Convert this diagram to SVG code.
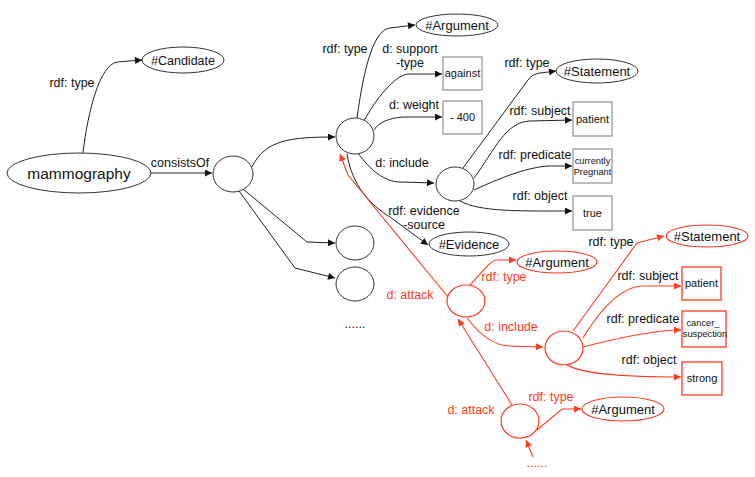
<svg xmlns="http://www.w3.org/2000/svg" width="755" height="477" viewBox="0 0 755 477">
<defs>
<marker id="ab" viewBox="0 0 10 10" refX="10" refY="5" markerWidth="9" markerHeight="7" orient="auto" markerUnits="userSpaceOnUse"><path d="M0,0 L10,5 L0,10 z" fill="#111"/></marker>
<marker id="ar" viewBox="0 0 10 10" refX="10" refY="5" markerWidth="9" markerHeight="7" orient="auto" markerUnits="userSpaceOnUse"><path d="M0,0 L10,5 L0,10 z" fill="#FF3B20"/></marker>
</defs>
<style>
text{font-family:"Liberation Sans",Arial,sans-serif;fill:#111;text-anchor:middle}
.lbl{font-size:12.5px}
.red{fill:#FF3B20}
.nt{font-size:13px}
.bt{font-size:11px}
.st{font-size:9.3px}
.en{fill:#fff;stroke:#333;stroke-width:1}
.er{fill:#fff;stroke:#FF3B20;stroke-width:1.2}
.bx{fill:#fff;stroke:#999;stroke-width:1.3}
.bxr{fill:#fff;stroke:#FF3B20;stroke-width:1.3}
.cb{fill:none;stroke:#222;stroke-width:1;marker-end:url(#ab)}
.cr{fill:none;stroke:#FF3B20;stroke-width:1.1;marker-end:url(#ar)}
</style>
<rect width="755" height="477" fill="#fff"/>
<g id="connectors">
<path class="cb" d="M83,153 C88,110 100,65 117,62 L142,60"/>
<path class="cb" d="M151,173 L212,173"/>
<path class="cb" d="M252,167 C265,140 290,137 335,137"/>
<path class="cb" d="M243,189 L307,242 L335,243"/>
<path class="cb" d="M239,191 L295,268 L335,278"/>
<path class="cb" d="M357,118 C365,60 375,30 390,28 L415,25"/>
<path class="cb" d="M364,121 C375,100 395,75 408,74 L442,74"/>
<path class="cb" d="M374,130 C380,120 395,117 407,117 L442,117"/>
<path class="cb" d="M358,153 C370,170 385,182 400,182 L434,183"/>
<path class="cb" d="M347,154 C352,185 370,205 390,217 L428,245"/>
<path class="cb" d="M463,168 L528,80 Q532,74 540,73 L556,71"/>
<path class="cb" d="M474,178 C495,150 505,122 530,121 L572,120"/>
<path class="cb" d="M474,190 C500,178 525,168 547,166 L572,166"/>
<path class="cb" d="M460,201 C480,212 520,211 572,211"/>
<path class="cr" d="M448,297 L348,175 L340,154"/>
<path class="cr" d="M512,405 L458,319"/>
<path class="cr" d="M470,285 C480,275 490,260 497,260 L516,260"/>
<path class="cr" d="M467,318 C480,335 495,346 510,346 L543,347"/>
<path class="cr" d="M573,331 L637,243 L664,236"/>
<path class="cr" d="M583,338 C600,310 620,287 642,286 L681,286"/>
<path class="cr" d="M583,347 C610,340 650,330 681,330"/>
<path class="cr" d="M567,365 C585,375 630,377 681,377"/>
<path class="cr" d="M537,430 L562,409 L581,409"/>
<path class="cr" d="M533,457 L526,440"/>
</g>
<g id="edge-labels">
<text class="lbl" x="72" y="87">rdf: type</text>
<text class="lbl" x="180" y="167">consistsOf</text>
<text class="lbl" x="345" y="53">rdf: type</text>
<text class="lbl" x="410" y="53">d: support</text>
<text class="lbl" x="410" y="67">-type</text>
<text class="lbl" x="414" y="109">d: weight</text>
<text class="lbl" x="402" y="167">d: include</text>
<text class="lbl" x="424" y="215">rdf: evidence</text>
<text class="lbl" x="424" y="229">-source</text>
<text class="lbl" x="527" y="67">rdf: type</text>
<text class="lbl" x="540" y="115">rdf: subject</text>
<text class="lbl" x="535" y="159">rdf: predicate</text>
<text class="lbl" x="540" y="200">rdf: object</text>
<text class="lbl red" x="410" y="299">d: attack</text>
<text class="lbl red" x="504" y="281">rdf: type</text>
<text class="lbl red" x="511" y="331">d: include</text>
<text class="lbl" x="611" y="246">rdf: type</text>
<text class="lbl" x="648" y="280">rdf: subject</text>
<text class="lbl" x="643" y="323">rdf: predicate</text>
<text class="lbl" x="649" y="364">rdf: object</text>
<text class="lbl red" x="551" y="401">rdf: type</text>
<text class="lbl red" x="471" y="414">d: attack</text>
<text class="lbl" x="355" y="328">......</text>
<text class="lbl red" x="537" y="467">......</text>
</g>
<g id="mammography"><ellipse class="en" cx="79" cy="173" rx="72" ry="20"/><text x="79" y="179" style="font-size:15.5px">mammography</text></g>
<g id="candidate"><ellipse class="en" cx="183" cy="60" rx="41" ry="13"/><text class="nt" x="183" y="65" style="font-size:12.5px">#Candidate</text></g>
<g id="c1"><ellipse class="en" cx="233" cy="174" rx="20" ry="18"/></g>
<g id="c2"><ellipse class="en" cx="355" cy="136" rx="19" ry="18"/></g>
<g id="c4"><ellipse class="en" cx="355" cy="243" rx="19" ry="17"/></g>
<g id="c5"><ellipse class="en" cx="355" cy="284" rx="19" ry="17"/></g>
<g id="argument"><ellipse class="en" cx="457" cy="25" rx="41" ry="11"/><text class="nt" x="457" y="30">#Argument</text></g>
<g id="against"><rect class="bx" x="443" y="57" width="39" height="33"/><text class="bt" x="462.5" y="77">against</text></g>
<g id="weight"><rect class="bx" x="443" y="101" width="39" height="33"/><text class="bt" x="462.5" y="121">- 400</text></g>
<g id="c3"><ellipse class="en" cx="455" cy="184" rx="19" ry="17"/></g>
<g id="evidence"><ellipse class="en" cx="469" cy="244" rx="40" ry="12"/><text class="nt" x="469" y="249">#Evidence</text></g>
<g id="statement"><ellipse class="en" cx="597" cy="71" rx="41" ry="12"/><text class="nt" x="597" y="76">#Statement</text></g>
<g id="patient"><rect class="bx" x="573" y="102" width="39" height="34"/><text class="bt" x="592.5" y="123">patient</text></g>
<g id="pregnant"><rect class="bx" x="573" y="149" width="39" height="34"/><text class="st" x="592.5" y="164">currently</text><text class="st" x="592.5" y="175">Pregnant</text></g>
<g id="true"><rect class="bx" x="573" y="196" width="39" height="34"/><text class="bt" x="592.5" y="217">true</text></g>
<g id="a1"><ellipse class="er" cx="466" cy="301" rx="19" ry="16"/></g>
<g id="argument-red"><ellipse class="er" cx="557" cy="262" rx="40" ry="11"/><text class="nt" x="557" y="267">#Argument</text></g>
<g id="a2"><ellipse class="er" cx="564" cy="348" rx="19" ry="17"/></g>
<g id="statement-red"><ellipse class="er" cx="707" cy="236" rx="41" ry="11"/><text class="nt" x="707" y="241">#Statement</text></g>
<g id="patient-red"><rect class="bxr" x="682" y="267" width="39" height="33"/><text class="bt" x="701.5" y="287">patient</text></g>
<g id="cancer-red"><rect class="bxr" x="682" y="311" width="44" height="36"/><text class="st" x="703" y="326">cancer_</text><text class="st" x="705" y="337">suspection</text></g>
<g id="strong-red"><rect class="bxr" x="682" y="362" width="40" height="33"/><text class="bt" x="702" y="382">strong</text></g>
<g id="a3"><ellipse class="er" cx="520" cy="421" rx="19" ry="17"/></g>
<g id="argument-red2"><ellipse class="er" cx="623" cy="409" rx="41" ry="12"/><text class="nt" x="623" y="414">#Argument</text></g>
</svg>
